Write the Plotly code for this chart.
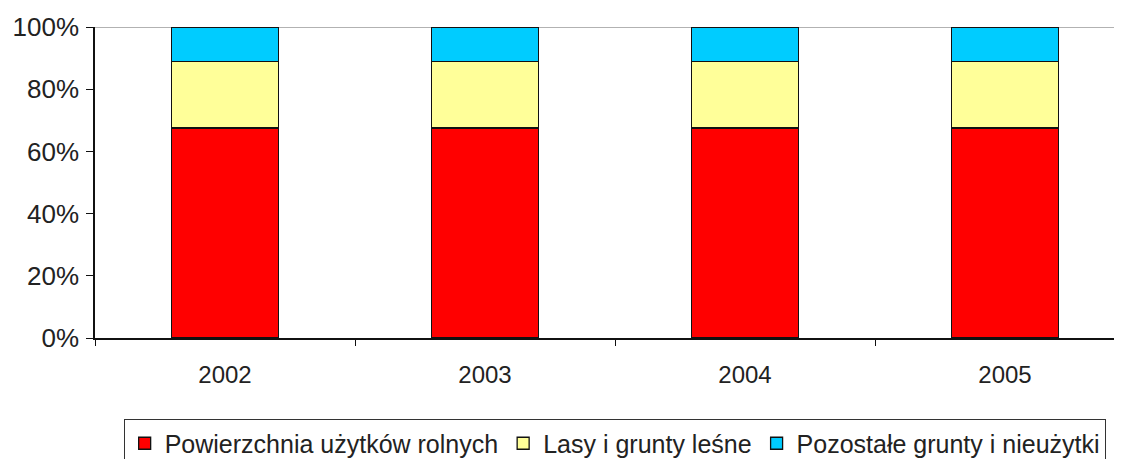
import plotly.graph_objects as go

years = ["2002", "2003", "2004", "2005"]
rolne = [67.5, 67.5, 67.5, 67.5]
lasy = [21.5, 21.5, 21.5, 21.5]
pozostale = [11.0, 11.0, 11.0, 11.0]
y_ticks = [0, 20, 40, 60, 80, 100]
y_labels = ["0%", "20%", "40%", "60%", "80%", "100%"]

series = [
    ("Powierzchnia użytków rolnych", rolne, "#FF0000"),
    ("Lasy i grunty leśne", lasy, "#FFFF99"),
    ("Pozostałe grunty i nieużytki", pozostale, "#00CCFF"),
]

fig = go.Figure()
for name, vals, col in series:
    fig.add_trace(go.Bar(x=years, y=vals, name=name,
                         marker=dict(color=col, line=dict(color="#111", width=1.3))))

# page body adds 8px offset, margins compensate
fig.update_layout(
    barmode="stack", barnorm="percent", bargap=0.59,
    width=1122, height=459,
    margin=dict(l=87, r=8, t=19, b=129, autoexpand=False),
    plot_bgcolor="white", paper_bgcolor="white",
    font=dict(family="Liberation Sans, Arial", size=24, color="#222"),
    legend=dict(orientation="h", x=0.506, xanchor="center", y=-0.262, yanchor="top",
                bordercolor="#333", borderwidth=1, font=dict(size=25),
                traceorder="normal", itemwidth=30, tracegroupgap=0),
    showlegend=True,
)
fig.update_xaxes(range=[-0.5, 3.45], showline=True, linecolor="#111", linewidth=1.5,
                 ticks="outside", tickson="boundaries", ticklen=6, tickcolor="#111",
                 ticklabelstandoff=14, showgrid=False, automargin=False)
fig.update_yaxes(range=[0, 100], tickvals=y_ticks, ticktext=y_labels,
                 showline=True, linecolor="#111", linewidth=1.5, ticks="outside",
                 ticklen=7, tickcolor="#111", showgrid=False, zeroline=False,
                 ticklabelstandoff=2, tickfont=dict(size=26), automargin=False)
fig.add_shape(type="line", xref="paper", yref="y", x0=0, x1=1, y0=100, y1=100,
              line=dict(color="#999", width=1.5), layer="below")

fig.write_html("out.html")
